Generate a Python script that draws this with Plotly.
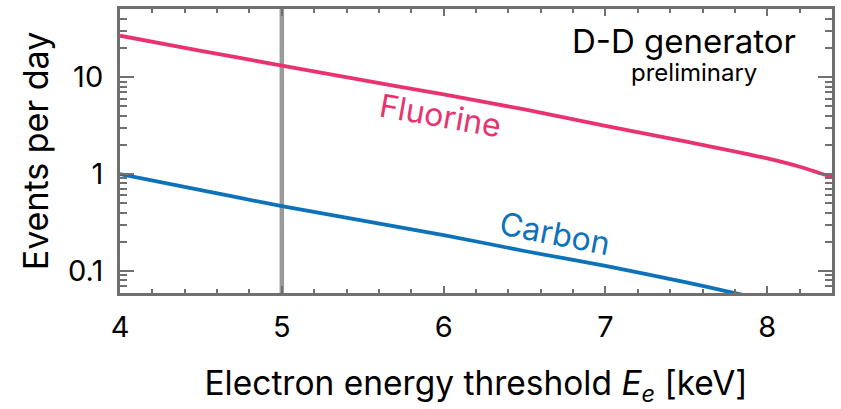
import plotly.graph_objects as go

energy = [4.0, 4.5, 5.0, 5.5, 6.0, 6.5, 7.0, 7.5, 7.75, 8.0, 8.2, 8.4]
fluorine = [26.9, 18.8, 13.2, 9.35, 6.64, 4.65, 3.15, 2.16, 1.78, 1.45, 1.19, 0.93]
carbon = [1.0, 0.68, 0.466, 0.33, 0.234, 0.160, 0.112, 0.0757, 0.0613, 0.0495, 0.042, 0.0355]

threshold = 5.0
x_ticks = [4, 5, 6, 7, 8]
y_ticks = [0.1, 1, 10]
y_tick_text = ["0.1", "1", "10"]
y_minor = [0.06, 0.07, 0.08, 0.09, 0.2, 0.3, 0.4, 0.5, 0.6, 0.7, 0.8, 0.9,
           2, 3, 4, 5, 6, 7, 8, 9, 20, 30, 40, 50]

FONT = "Inter"
AX = "#707070"
PINK = "#E8336F"
BLUE = "#0D72B9"

fig = go.Figure()
fig.add_trace(go.Scatter(x=[threshold, threshold], y=[0.01, 100], mode="lines",
                         line=dict(color="#9a9a9a", width=4.5), showlegend=False))
fig.add_trace(go.Scatter(x=energy, y=fluorine, mode="lines", line=dict(color=PINK, width=3.8, shape="spline", smoothing=0.6),
                         showlegend=False))
fig.add_trace(go.Scatter(x=energy, y=carbon, mode="lines", line=dict(color=BLUE, width=3.8, shape="spline", smoothing=0.6),
                         showlegend=False))

fig.update_layout(
    width=841, height=409,
    margin=dict(l=120, r=8, t=6, b=116),
    plot_bgcolor="white", paper_bgcolor="white",
    font=dict(family=FONT, color="black"),
    xaxis=dict(
        range=[4, 8.4], tickvals=x_ticks, ticks="inside", ticklen=7, tickwidth=2, tickcolor=AX,
        showline=True, linecolor=AX, linewidth=3, mirror="allticks", showgrid=False, zeroline=False,
        tickfont=dict(size=29), ticklabelstandoff=6,
        minor=dict(dtick=0.2, ticks="inside", ticklen=4, tickwidth=2, tickcolor=AX, showgrid=False),
        title=dict(text="Electron energy threshold <i>E</i><sub><i>e</i></sub> [keV]", font=dict(size=33.5), standoff=29),
    ),
    yaxis=dict(
        type="log", range=[-1.23, 1.706], tickvals=y_ticks, ticktext=y_tick_text,
        ticks="inside", ticklen=14, tickwidth=2, tickcolor=AX,
        showline=True, linecolor=AX, linewidth=3, mirror="allticks", showgrid=False, zeroline=False,
        tickfont=dict(size=29), ticklabelstandoff=8,
        minor=dict(tickvals=y_minor, ticks="inside", ticklen=7, tickwidth=2, tickcolor=AX, showgrid=False),
        title=dict(text="Events per day", font=dict(size=34), standoff=10),
    ),
    annotations=[
        dict(text="Fluorine", x=5.98, y=0.601, xref="x", yref="y", showarrow=False, textangle=10,
             xanchor="center", yanchor="middle", font=dict(size=32, color=PINK)),
        dict(text="Carbon", x=6.69, y=-0.619, xref="x", yref="y", showarrow=False, textangle=11,
             xanchor="center", yanchor="middle", font=dict(size=32, color=BLUE)),
        dict(text="D-D generator", x=0.792, y=0.888, xref="paper", yref="paper", showarrow=False,
             xanchor="center", yanchor="middle", font=dict(size=33, color="black")),
        dict(text="preliminary", x=0.806, y=0.778, xref="paper", yref="paper", showarrow=False,
             xanchor="center", yanchor="middle", font=dict(size=24, color="black")),
    ],
)

fig.write_html("out.html")
